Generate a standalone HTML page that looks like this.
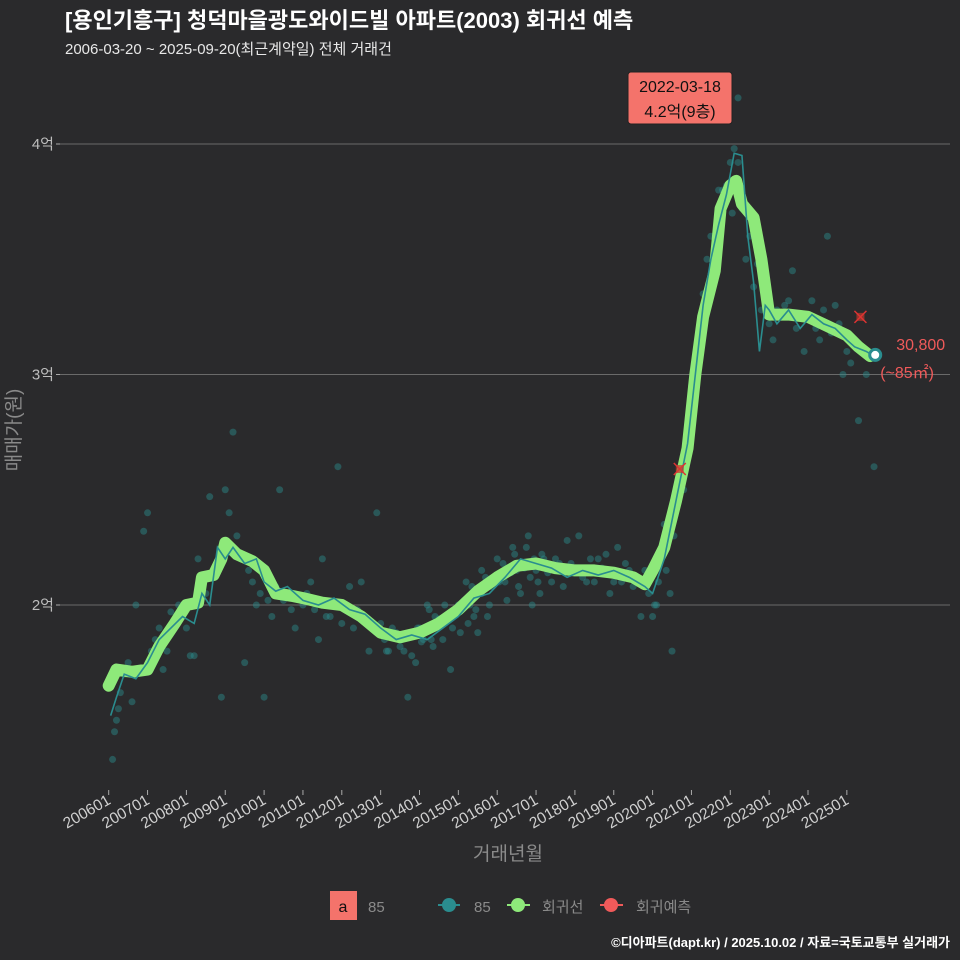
<!DOCTYPE html>
<html><head><meta charset="utf-8">
<style>
html,body{margin:0;padding:0;background:#2a2a2c;}
svg{display:block;font-family:"Liberation Sans","Noto Sans CJK KR",sans-serif;}
</style></head>
<body>
<svg id="chart" width="960" height="960" viewBox="0 0 960 960">
<rect x="0" y="0" width="960" height="960" fill="#2a2a2c"/>
<text x="65" y="28" fill="#ffffff" font-size="22" font-weight="bold">[용인기흥구] 청덕마을광도와이드빌 아파트(2003) 회귀선 예측</text>
<text x="65" y="54" fill="#e8e8e8" font-size="15">2006-03-20 ~ 2025-09-20(최근계약일) 전체 거래건</text>
<g id="grid"></g>
<g id="yticks"></g>
<g id="xticks"></g>
<g id="points"></g>
<g id="lines"></g>
<g id="marks"></g>
<text x="20" y="430" fill="#8a8a8a" font-size="19" text-anchor="middle" transform="rotate(-90 20 430)">매매가(원)</text>
<text x="508" y="860" fill="#8a8a8a" font-size="19" text-anchor="middle">거래년월</text>
<g>
<rect x="330" y="891" width="27" height="29" fill="#f4736b"/>
<text x="343" y="912" fill="#111" font-size="16" text-anchor="middle">a</text>
<text x="368" y="912" fill="#8a8a8a" font-size="15">85</text>
<g><line x1="438" y1="905" x2="460" y2="905" stroke="#2a8d8f" stroke-width="2"/><circle cx="449" cy="905" r="7" fill="#2a8d8f"/><text x="474" y="912" fill="#8a8a8a" font-size="15">85</text></g>
<g><line x1="507" y1="905" x2="530" y2="905" stroke="#8ee97a" stroke-width="2"/><circle cx="518" cy="905" r="7" fill="#8ee97a"/><text x="542" y="912" fill="#8a8a8a" font-size="15">회귀선</text></g>
<g><line x1="600" y1="905" x2="623" y2="905" stroke="#f05a5a" stroke-width="2"/><circle cx="611" cy="905" r="7" fill="#f05a5a"/><text x="636" y="912" fill="#8a8a8a" font-size="15">회귀예측</text></g>
</g>
<text x="950" y="947" fill="#ffffff" font-size="13" font-weight="bold" text-anchor="end">©디아파트(dapt.kr) / 2025.10.02 / 자료=국토교통부 실거래가</text>
</svg>
<script>
const yTicks=[2,3,4];
const yTickLabels=["2억","3억","4억"];
const xTickYears=[2006,2007,2008,2009,2010,2011,2012,2013,2014,2015,2016,2017,2018,2019,2020,2021,2022,2023,2024,2025];
const xTickLabels=["200601","200701","200801","200901","201001","201101","201201","201301","201401","201501","201601","201701","201801","201901","202001","202101","202201","202301","202401","202501"];
const regT=[2006.0,2006.2,2006.6,2007.0,2007.3,2007.7,2008.0,2008.3,2008.4,2008.7,2008.9,2009.0,2009.3,2009.7,2010.0,2010.3,2010.7,2011.0,2011.5,2012.0,2012.5,2013.0,2013.5,2014.0,2014.5,2015.0,2015.5,2016.0,2016.5,2017.0,2017.5,2018.0,2018.5,2019.0,2019.5,2019.8,2020.0,2020.3,2020.6,2020.9,2021.1,2021.3,2021.6,2021.75,2022.0,2022.15,2022.3,2022.6,2022.8,2023.0,2023.5,2024.0,2024.5,2025.0,2025.3,2025.6];
const regV=[1.65,1.72,1.71,1.72,1.82,1.92,2.0,2.01,2.12,2.13,2.2,2.27,2.22,2.19,2.15,2.05,2.04,2.03,2.01,2.0,1.95,1.88,1.86,1.88,1.92,1.98,2.06,2.12,2.17,2.18,2.16,2.15,2.15,2.14,2.12,2.09,2.15,2.25,2.45,2.68,3.0,3.25,3.45,3.72,3.82,3.84,3.74,3.68,3.5,3.26,3.26,3.25,3.21,3.17,3.12,3.08];
const avgT=[2006.05,2006.2,2006.4,2006.7,2007.0,2007.3,2007.6,2007.9,2008.2,2008.4,2008.6,2008.8,2009.0,2009.2,2009.5,2009.8,2010.0,2010.3,2010.6,2011.0,2011.4,2011.8,2012.2,2012.6,2013.0,2013.4,2013.8,2014.2,2014.6,2015.0,2015.4,2015.8,2016.2,2016.6,2017.0,2017.4,2017.8,2018.2,2018.6,2019.0,2019.4,2019.8,2020.0,2020.3,2020.6,2020.9,2021.1,2021.3,2021.5,2021.7,2021.9,2022.1,2022.3,2022.45,2022.6,2022.75,2022.9,2023.0,2023.2,2023.5,2023.8,2024.1,2024.4,2024.7,2025.0,2025.2,2025.5,2025.7];
const avgV=[1.52,1.6,1.7,1.68,1.75,1.85,1.9,1.95,1.92,2.05,2.0,2.25,2.2,2.25,2.18,2.2,2.1,2.06,2.08,2.02,2.0,2.03,1.98,1.96,1.9,1.85,1.87,1.85,1.9,1.95,2.03,2.05,2.12,2.2,2.18,2.16,2.12,2.15,2.13,2.15,2.12,2.08,2.05,2.2,2.45,2.7,3.0,3.3,3.5,3.65,3.78,3.96,3.95,3.6,3.4,3.1,3.3,3.28,3.22,3.28,3.2,3.26,3.22,3.2,3.15,3.12,3.1,3.08];
const ptT=[2006.1,2006.15,2006.2,2006.25,2006.3,2006.4,2006.5,2006.6,2006.7,2006.9,2007.0,2007.1,2007.2,2007.3,2007.5,2007.6,2007.8,2007.9,2008.0,2008.2,2008.3,2008.5,2008.6,2008.7,2008.8,2008.9,2009.0,2009.1,2009.2,2009.3,2009.4,2009.5,2009.7,2009.8,2010.0,2010.2,2010.4,2010.6,2010.8,2011.0,2011.2,2011.4,2011.5,2011.7,2011.9,2012.1,2012.3,2012.5,2012.7,2012.9,2013.1,2013.3,2013.5,2013.7,2013.9,2014.0,2014.2,2014.4,2014.6,2014.8,2015.0,2015.2,2015.4,2015.6,2015.8,2016.0,2016.2,2016.4,2016.6,2016.8,2017.0,2017.2,2017.4,2017.6,2017.8,2018.0,2018.3,2018.6,2018.9,2019.1,2019.4,2019.7,2019.9,2020.1,2020.3,2020.5,2020.7,2020.9,2021.0,2021.2,2021.4,2021.6,2021.8,2022.0,2022.1,2022.2,2022.3,2022.5,2022.7,2022.9,2023.1,2023.3,2023.6,2023.9,2024.1,2024.3,2024.5,2024.7,2024.9,2025.1,2025.3,2025.5,2025.7,2013.2,2014.1,2014.7,2015.3,2015.9,2016.5,2017.1,2018.1,2012.8,2010.5,2011.3,2009.9,2008.1,2007.4,2016.9,2019.2,2020.0,2020.2,2021.9,2023.4,2024.2,2015.5,2014.3,2013.6,
2013.0,2013.15,2013.4,2013.55,2013.8,2013.95,2014.05,2014.25,2014.35,2014.5,2014.65,2014.85,2014.95,2015.05,2015.15,2015.25,2015.35,2015.45,2015.6,2015.7,2015.75,2015.85,2016.05,2016.15,2016.25,2016.35,2016.45,2016.55,2016.7,2016.75,2016.85,2016.95,2017.05,2017.15,2017.3,2017.5,2017.7,2017.9,2018.2,2018.4,2018.5,2018.7,2018.8,2019.0,2019.3,2019.5,2019.6,2019.8,2020.05,2020.15,2020.25,2020.35,2020.45,2020.55,2020.8,2021.05,2021.15,2021.3,2021.5,2021.7,2022.05,2022.4,2022.6,2022.8,2023.0,2023.2,2023.5,2023.7,2024.0,2024.4,2024.6,2024.8,2025.0,2025.2,2011.1,2011.6,2012.0,2012.2,2012.4,2010.1,2010.3,2010.7,2009.6,2008.4];
const ptV=[1.33,1.45,1.5,1.55,1.62,1.7,1.75,1.58,2.0,2.32,2.4,1.8,1.85,1.9,1.8,1.97,2.0,1.95,1.9,1.78,2.2,2.05,2.47,2.15,2.18,1.6,2.5,2.4,2.75,2.3,2.2,1.75,2.1,2.0,1.6,1.95,2.5,2.05,1.9,2.0,2.1,1.85,2.2,1.95,2.6,2.0,1.9,2.1,1.8,2.4,1.85,1.9,1.82,1.6,1.75,1.9,2.0,1.95,1.85,1.72,2.0,2.1,1.95,2.15,2.0,2.2,2.1,2.25,2.05,2.3,2.15,2.2,2.1,2.18,2.28,2.15,2.1,2.2,2.05,2.25,2.15,1.95,2.05,2.0,2.35,1.8,2.55,2.7,2.95,3.2,3.5,3.45,3.8,3.92,3.98,3.92,3.72,3.6,3.48,3.42,3.15,3.25,3.45,3.1,3.32,3.15,3.6,3.3,3.0,3.05,2.8,3.0,2.6,1.8,1.85,1.95,2.0,2.1,2.15,2.05,2.3,1.92,2.02,1.98,2.05,1.78,1.72,2.0,2.1,1.95,2.2,3.82,3.3,3.2,1.88,1.85,1.8,
1.92,1.8,1.88,1.85,1.78,1.9,1.84,1.98,1.82,1.94,2.0,1.9,1.96,1.88,2.02,1.92,2.08,1.98,2.05,2.12,1.95,2.08,2.1,2.18,2.02,2.14,2.22,2.08,2.16,2.25,2.12,2.2,2.1,2.22,2.14,2.2,2.08,2.18,2.12,2.2,2.1,2.16,2.22,2.1,2.18,2.08,2.12,2.15,2.0,2.1,2.25,2.15,2.05,2.3,2.5,2.85,3.1,3.35,3.6,3.8,3.7,3.5,3.38,3.28,3.22,3.28,3.32,3.2,3.25,3.28,3.18,3.22,3.1,3.14,2.05,1.95,1.92,2.08,1.98,2.02,2.08,1.98,2.15,2.1];
const fcT=[2020.7,2025.35];
const fcV=[2.59,3.25];
const lastT=2025.73, lastV=3.085;
const peakT=2022.2, peakV=4.2;

const NS="http://www.w3.org/2000/svg";
const L=60,R=950;
function sx(t){return 108.7+(t-2006)*38.85;}
function sy(v){return 605-(v-2)*230.5;}
function mk(tag,attrs,parent){const e=document.createElementNS(NS,tag);for(const k in attrs)e.setAttribute(k,attrs[k]);parent.appendChild(e);return e;}
const grid=document.getElementById('grid'),yt=document.getElementById('yticks'),xt=document.getElementById('xticks');
yTicks.forEach((v,i)=>{
  const ln=mk('line',{x1:L,x2:R,y1:sy(v),y2:sy(v),stroke:'#6a6a6a','stroke-width':1},grid);
  
  
  const tk=mk('line',{x1:56,x2:60,y1:sy(v),y2:sy(v),stroke:'#aaa'},yt);
  
  
  const tx=mk('text',{x:54,y:sy(v)+5,fill:'#bdbdbd','font-size':15,'text-anchor':'end'},yt);
  tx.textContent=yTickLabels[i];
  
  
});
xTickYears.forEach((y,i)=>{
  const x=sx(y);
  const tk=mk('line',{x1:x,x2:x,y1:790,y2:795,stroke:'#aaa'},xt);
  
  
  const tx=mk('text',{x:x+3,y:803,fill:'#d0d0d0','font-size':15.5,'text-anchor':'end',transform:`rotate(-30 ${x+3} 803)`},xt);
  tx.textContent=xTickLabels[i];
  
  
});
const pg=document.getElementById('points');
ptT.forEach((t,i)=>{
  const c=mk('circle',{cx:sx(t),cy:sy(ptV[i]),r:3.5,fill:'#2a8d8f','fill-opacity':0.45},pg);
  
  
});
const lg=document.getElementById('lines');
const reg=mk('polyline',{points:regT.map((t,i)=>sx(t)+','+sy(regV[i])).join(' '),fill:'none',stroke:'#8ee97a','stroke-width':12,'stroke-linejoin':'round','stroke-linecap':'round'},lg);


const avg=mk('polyline',{points:avgT.map((t,i)=>sx(t)+','+sy(avgV[i])).join(' '),fill:'none',stroke:'#2a8d8f','stroke-width':1.6},lg);


const mg=document.getElementById('marks');
fcT.forEach((t,i)=>{
  const x=sx(t),y=sy(fcV[i]);
  const g=mk('g',{},mg);
  
  
  mk('rect',{x:x-4,y:y-4,width:8,height:8,fill:'#c0392b','fill-opacity':0.7},g);
  mk('line',{x1:x-6,y1:y-6,x2:x+6,y2:y+6,stroke:'#d33','stroke-width':1.5},g);
  mk('line',{x1:x-6,y1:y+6,x2:x+6,y2:y-6,stroke:'#d33','stroke-width':1.5},g);
});
const le=mk('circle',{cx:sx(lastT),cy:sy(lastV),r:5.5,fill:'#fff',stroke:'#2a8d8f','stroke-width':3},mg);


const l1=mk('text',{x:sx(lastT)+21,y:sy(lastV)-5,fill:'#f05a5a','font-size':16},mg);
l1.textContent='30,800';


const l2=mk('text',{x:sx(lastT)+5,y:sy(lastV)+23,fill:'#f05a5a','font-size':16},mg);
l2.textContent='(~85㎡)';


const pk=mk('circle',{cx:sx(peakT),cy:sy(peakV),r:3.5,fill:'#2a8d8f','fill-opacity':0.45},mg);


const ann=mk('g',{},mg);


mk('rect',{x:628,y:72,width:104,height:52,rx:3,fill:'#f4736b',stroke:'#222','stroke-width':1},ann);
const a1=mk('text',{x:680,y:92,fill:'#111','font-size':16,'text-anchor':'middle'},ann);a1.textContent='2022-03-18';
const a2=mk('text',{x:680,y:117,fill:'#111','font-size':16,'text-anchor':'middle'},ann);a2.textContent='4.2억(9층)';
</script>
</body></html>
